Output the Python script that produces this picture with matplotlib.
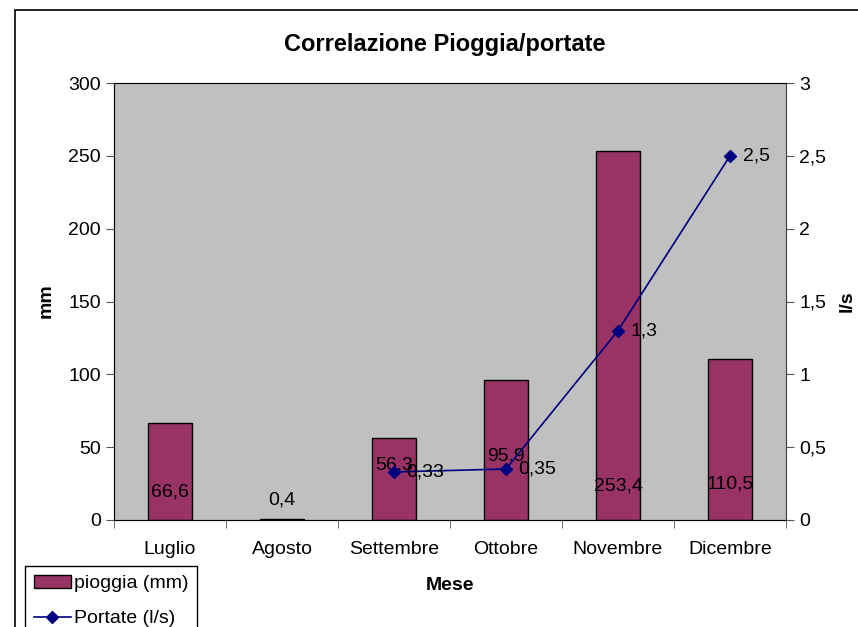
import matplotlib.pyplot as plt
import numpy as np
from matplotlib.patches import Rectangle

plt.rcParams["font.family"] = ["Liberation Sans", "DejaVu Sans"]

months = ["Luglio", "Agosto", "Settembre", "Ottobre", "Novembre", "Dicembre"]
pioggia = [66.6, 0.4, 56.3, 95.9, 253.4, 110.5]
portate = [np.nan, np.nan, 0.33, 0.35, 1.3, 2.5]
pioggia_labels = ["66,6", "0,4", "56,3", "95,9", "253,4", "110,5"]
portate_labels = ["", "", "0,33", "0,35", "1,3", "2,5"]

# where Excel dropped the bar value labels (in mm)
bar_label_y = [19, 14, 38, 44, 23, 25]

FS = 14

fig = plt.figure(figsize=(8.58, 6.27), dpi=100)
fig.patches.append(Rectangle((15 / 858, -0.1), 1.0, 1.1 - 10 / 627,
                             transform=fig.transFigure, fill=False,
                             edgecolor="black", linewidth=1.2))

ax = fig.add_axes([114 / 858, 1 - 520 / 627, 672 / 858, 437 / 627])
ax.set_facecolor("#C0C0C0")
x = np.arange(len(months))
ax.bar(x, pioggia, width=0.4, color="#993366", edgecolor="black",
       linewidth=1, label="pioggia (mm)", zorder=2)
ax.set_xlim(-0.5, len(months) - 0.5)
ax.set_ylim(0, 300)
ax.set_yticks(np.arange(0, 301, 50))
ax.set_xticks(x)
ax.set_xticklabels(months)
ax.set_xticks(np.arange(-0.5, len(months)), minor=True)
ax.tick_params(axis="x", which="major", length=0, pad=15, labelsize=FS)
ax.tick_params(axis="x", which="minor", length=6, color="#555555")
ax.tick_params(axis="y", length=6, labelsize=FS, color="#555555")
for s in ["left", "bottom"]:
    ax.spines[s].set_color("#404040")
for s in ["top", "right"]:
    ax.spines[s].set_color("#808080")
    ax.spines[s].set_linewidth(0.8)

for xi, lab, ly in zip(x, pioggia_labels, bar_label_y):
    ax.text(xi, ly, lab, ha="center", va="center", fontsize=FS, zorder=4)

ax2 = ax.twinx()
ax2.plot(x, portate, color="#000080", marker="D", markersize=6,
         linewidth=1.2, label="Portate (l/s)", zorder=3)
ax2.set_ylim(0, 3)
ax2.set_yticks(np.arange(0, 3.01, 0.5))
ax2.set_yticklabels(["0", "0,5", "1", "1,5", "2", "2,5", "3"])
ax2.tick_params(axis="y", length=6, labelsize=FS, color="#555555")
ax2.spines["right"].set_color("#404040")
for xi, yi, lab in zip(x, portate, portate_labels):
    if lab:
        ax2.annotate(lab, (xi, yi), xytext=(9, 0), textcoords="offset points",
                     ha="left", va="center", fontsize=FS)

ax.set_yticklabels([str(v) for v in range(0, 301, 50)])
fig.text(445 / 858, 1 - 45 / 627, "Correlazione Pioggia/portate",
         fontsize=17, fontweight="bold", ha="center", va="center")
fig.text(450 / 858, 1 - 585 / 627, "Mese", fontsize=FS, fontweight="bold",
         ha="center", va="center")
fig.text(46 / 858, 1 - 301 / 627, "mm", fontsize=FS, fontweight="bold",
         ha="center", va="center", rotation=90)
fig.text(847 / 858, 1 - 301 / 627, "l/s", fontsize=FS, fontweight="bold",
         ha="center", va="center", rotation=90)

h1, l1 = ax.get_legend_handles_labels()
h2, l2 = ax2.get_legend_handles_labels()
fig.legend(h1 + h2, l1 + l2, loc="upper left",
           bbox_to_anchor=(25 / 858, 1 - 566 / 627), fontsize=FS,
           frameon=True, fancybox=False, edgecolor="black", framealpha=1,
           handlelength=1.9, handletextpad=0.15, borderpad=0.45,
           labelspacing=0.9, borderaxespad=0)

fig.savefig("out.png", dpi=100)
